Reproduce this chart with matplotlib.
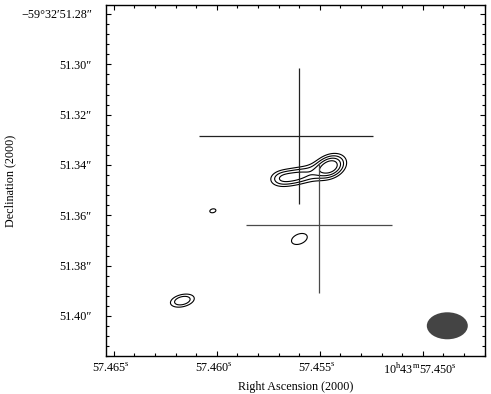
import numpy as np
import matplotlib
matplotlib.use("Agg")
import matplotlib.pyplot as plt
from matplotlib.patches import Ellipse
from matplotlib.ticker import FixedLocator, FixedFormatter, MultipleLocator
from matplotlib.transforms import ScaledTranslation

plt.rcParams['font.family'] = ['Liberation Serif', 'DejaVu Serif']
plt.rcParams['mathtext.fontset'] = 'custom'
plt.rcParams['mathtext.rm'] = 'Liberation Serif'
plt.rcParams['font.size'] = 8.7

# axis ticks (RA seconds of 10h43m, Dec arcsec of -59d32')
ra_ticks = [57.465, 57.460, 57.455, 57.450]
ra_labels = [r'57.465$^{\rm s}$', r'57.460$^{\rm s}$', r'57.455$^{\rm s}$',
             r'10$^{\rm h}$43$^{\rm m}$57.450$^{\rm s}$']
dec_ticks = [51.28, 51.30, 51.32, 51.34, 51.36, 51.38, 51.40]
dec_labels = ['\u221259\u00b032\u203251.28\u2033', '51.30\u2033', '51.32\u2033',
              '51.34\u2033', '51.36\u2033', '51.38\u2033', '51.40\u2033']

# gaussian components: ra, dec, peak (rms units), sigma maj/min (mas), tilt (deg)
comp_ra = [57.45450, 57.45693, 57.45596, 57.45599, 57.46019, 57.46167]
comp_dec = [51.3406, 51.34537, 51.34418, 51.3694, 51.3582, 51.3939]
comp_peak = [7.0, 4.0, 4.4, 3.75, 3.14, 4.95]
comp_smaj = [5.0, 4.0, 4.5, 4.6, 3.8, 4.5]
comp_smin = [3.6, 3.0, 3.0, 2.9, 2.5, 2.4]
comp_tilt = [30, 10, 15, 25, 15, 15]
levels = [3, 4, 5, 6]

# position crosses: centre and extent
cross_ra = [57.45600, 57.45503]
cross_dec = [51.3285, 51.3639]
cross_ra_lo = [0.00486, 0.00354]   # towards larger RA (left)
cross_ra_hi = [0.00359, 0.00354]
cross_dec_up = [0.0270, 0.0247]
cross_dec_dn = [0.0270, 0.0270]
cross_colors = ['#222222', '#4a4a4a']

# restoring beam
beam_ra, beam_dec = 57.44881, 51.4039
beam_w, beam_h = 0.00199, 0.01073

xlim = (57.46539, 57.44698)
ylim = (51.4161, 51.2763)

ra = np.linspace(xlim[1], xlim[0], 700)
dec = np.linspace(ylim[1], ylim[0], 700)
RA, DEC = np.meshgrid(ra, dec)
cosd = np.cos(np.radians(59 + 32 / 60 + 51.3 / 3600))
img = np.zeros_like(RA)
for r0, d0, p, a, b, t in zip(comp_ra, comp_dec, comp_peak, comp_smaj, comp_smin, comp_tilt):
    dx = -(RA - r0) * 15 * cosd * 1000
    dy = -(DEC - d0) * 1000
    th = np.radians(t)
    u = dx * np.cos(th) + dy * np.sin(th)
    v = -dx * np.sin(th) + dy * np.cos(th)
    img += p * np.exp(-0.5 * ((u / a) ** 2 + (v / b) ** 2))

fig = plt.figure(figsize=(4.91, 3.94), dpi=100)
ax = fig.add_axes([0.2153, 0.0952, 0.9878 - 0.2153, 0.9881 - 0.0952])

ax.contour(RA, DEC, img, levels=levels, colors='black', linewidths=0.8)

for i in range(len(cross_ra)):
    ax.errorbar([cross_ra[i]], [cross_dec[i]],
                xerr=[[cross_ra_hi[i]], [cross_ra_lo[i]]],
                yerr=[[cross_dec_up[i]], [cross_dec_dn[i]]],
                fmt='none', ecolor=cross_colors[i], elinewidth=0.9, capsize=0)

ax.add_patch(Ellipse((beam_ra, beam_dec), beam_w, beam_h, facecolor='#444444', edgecolor='none'))

ax.set_xlim(*xlim)
ax.set_ylim(*ylim)

ax.xaxis.set_major_locator(FixedLocator(ra_ticks))
ax.xaxis.set_major_formatter(FixedFormatter(ra_labels))
ax.xaxis.set_minor_locator(MultipleLocator(0.001))
ax.yaxis.set_major_locator(FixedLocator(dec_ticks))
ax.yaxis.set_major_formatter(FixedFormatter(dec_labels))
ax.yaxis.set_minor_locator(MultipleLocator(0.004))

ax.tick_params(which='both', direction='in', top=True, right=True, width=0.8)
ax.tick_params(which='major', length=3.8)
ax.tick_params(which='minor', length=2.2)
ax.tick_params(axis='y', pad=10)
ax.tick_params(axis='x', pad=4)
for s in ax.spines.values():
    s.set_linewidth(1.0)

# labels sit a little left of their ticks in the original
shift = ScaledTranslation(-3 / 100, 0, fig.dpi_scale_trans)
for lab in ax.get_xticklabels():
    lab.set_transform(lab.get_transform() + shift)

ax.set_xlabel('Right Ascension (2000)', labelpad=3)
ax.set_ylabel('Declination (2000)', labelpad=3)

fig.savefig('out.png', dpi=100)
